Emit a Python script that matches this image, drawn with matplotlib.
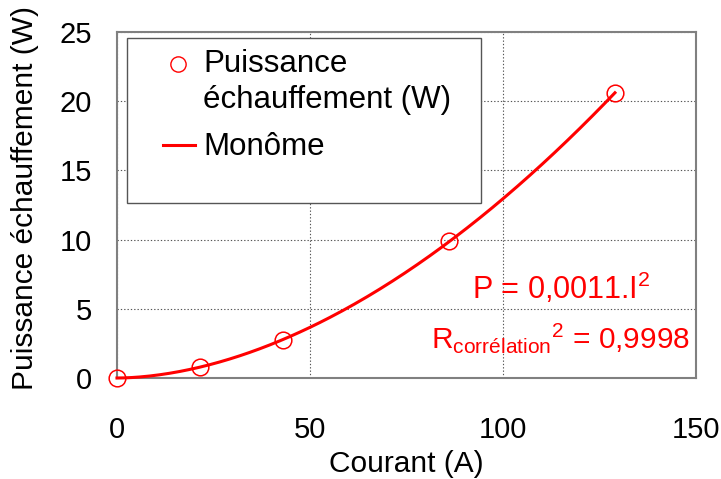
import numpy as np
import matplotlib
matplotlib.use("Agg")
import matplotlib.pyplot as plt
from matplotlib.patches import Rectangle

plt.rcParams['font.family'] = ['Liberation Sans', 'DejaVu Sans']
plt.rcParams['mathtext.default'] = 'regular'

# Measured heating power versus current
courant = [0, 21.5, 43, 86, 129]
puissance = [0, 0.79, 2.75, 9.9, 20.6]

x_ticks = [0, 50, 100, 150]
y_ticks = [0, 5, 10, 15, 20, 25]

legend_labels = ['Puissance', 'échauffement (W)', 'Monôme']

# Monomial trend line a*I^b fitted on the non-zero points
xs = np.array(courant[1:], dtype=float)
ys = np.array(puissance[1:], dtype=float)
b, ln_a = np.polyfit(np.log(xs), np.log(ys), 1)
a = np.exp(ln_a)
i_fit = np.linspace(0, max(courant), 200)
p_fit = a * i_fit ** b

RED = '#ff0000'
fig = plt.figure(figsize=(7.21, 4.79), dpi=100)
ax = fig.add_axes([117 / 721, 1 - 378 / 479, 579 / 721, 346 / 479])

ax.set_xlim(0, 150)
ax.set_ylim(0, 25)
ax.set_xticks(x_ticks)
ax.set_yticks(y_ticks)
ax.tick_params(axis='both', length=0, labelsize=21)
ax.tick_params(axis='y', pad=18)
ax.tick_params(axis='x', pad=27)

ax.grid(True, color='#555555', linestyle=(0, (1.2, 1.8)), linewidth=0.8)
for s in ax.spines.values():
    s.set_color('#808080')
    s.set_linewidth(1.5)

ax.plot(i_fit, p_fit, color=RED, linewidth=2.2, zorder=3, clip_on=False)
ax.plot(courant, puissance, linestyle='none', marker='o', markersize=12,
        markerfacecolor='none', markeredgecolor=RED, markeredgewidth=1.1,
        zorder=4, clip_on=False)

ax.set_xlabel('Courant (A)', fontsize=21.5, labelpad=5)
ax.set_ylabel('Puissance échauffement (W)', fontsize=21.5)
ax.yaxis.set_label_coords(-0.135, 0.52)

# Legend box drawn by hand (entries aligned to the first text line)
ta = ax.transAxes
ax.add_patch(Rectangle((0.0168, 0.506), 0.612, 0.477, transform=ta,
                       facecolor='white', edgecolor='#555555', linewidth=1.0,
                       zorder=5))
ax.plot([0.1054], [0.908], transform=ta, linestyle='none', marker='o',
        markersize=11, markerfacecolor='none', markeredgecolor=RED,
        markeredgewidth=1.0, zorder=6, clip_on=False)
ax.plot([0.0794, 0.1347], [0.673, 0.673], transform=ta, color=RED,
        linewidth=2.2, zorder=6, clip_on=False)
for lab, yb in zip(legend_labels, [0.884, 0.780, 0.644]):
    ax.text(0.1485, yb, lab, transform=ta, fontsize=22.5, color='black',
            ha='left', va='baseline', zorder=7)

ax.text(0.9206, 0.228, 'P = 0,0011.I$^{2}$', transform=ta,
        color=RED, fontsize=22, ha='right', va='baseline', zorder=6)
ax.text(0.990, 0.087, 'R$_{corrélation}$$^{2}$ = 0,9998', transform=ta,
        color=RED, fontsize=21.5, ha='right', va='baseline', zorder=6)

fig.savefig('out.png', dpi=100)
